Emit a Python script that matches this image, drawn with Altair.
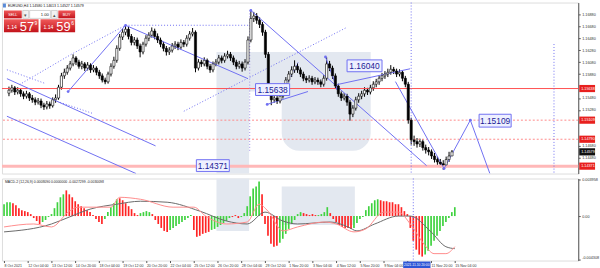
import altair as alt
import pandas as pd

# ---------------- data (EURUSD H4) ----------------
OPEN = [1.1556, 1.1561, 1.1565, 1.1558, 1.1561, 1.1555, 1.1551, 1.1555, 1.1548, 1.1545,
        1.1541, 1.1543, 1.1536, 1.1533, 1.1538, 1.1535, 1.1545, 1.1548, 1.1566, 1.1585,
        1.1591, 1.1598, 1.1605, 1.1615, 1.1608, 1.1601, 1.1605, 1.1598, 1.1603, 1.1595,
        1.1598, 1.1591, 1.1585, 1.1578, 1.1575, 1.1588, 1.1601, 1.1611, 1.1631, 1.1650,
        1.1658, 1.1663, 1.1651, 1.1641, 1.1645, 1.1635, 1.1625, 1.1638, 1.1648, 1.1653,
        1.1660, 1.1651, 1.1645, 1.1638, 1.1631, 1.1625, 1.1628, 1.1635, 1.1638, 1.1633,
        1.1641, 1.1638, 1.1648, 1.1655, 1.1658, 1.1598, 1.1608, 1.1605, 1.1611, 1.1601,
        1.1595, 1.1605, 1.1608, 1.1615, 1.1611, 1.1618, 1.1621, 1.1615, 1.1608, 1.1601,
        1.1605, 1.1598, 1.1608, 1.1645, 1.1681, 1.1685, 1.1678, 1.1671, 1.1658, 1.1621,
        1.1561, 1.1545, 1.1548, 1.1543, 1.1551, 1.1561, 1.1578, 1.1588, 1.1595, 1.1601,
        1.1595, 1.1588, 1.1581, 1.1578, 1.1581, 1.1575, 1.1578, 1.1575, 1.1571, 1.1581,
        1.1605, 1.1598, 1.1585, 1.1568, 1.1555, 1.1548, 1.1551, 1.1541, 1.1521, 1.1531,
        1.1545, 1.1551, 1.1555, 1.1561, 1.1558, 1.1565, 1.1571, 1.1575, 1.1581, 1.1585,
        1.1588, 1.1591, 1.1596, 1.1593, 1.1588, 1.1591, 1.1581, 1.1571, 1.1511, 1.1478,
        1.1475, 1.1471, 1.1475, 1.1465, 1.1461, 1.1458, 1.1451, 1.1445, 1.1441, 1.1438,
        1.1436, 1.1445, 1.1451]
HIGH = [1.1567, 1.1570, 1.1568, 1.1566, 1.1564, 1.1559, 1.1560, 1.1558, 1.1553, 1.1549,
        1.1548, 1.1547, 1.1540, 1.1543, 1.1542, 1.1549, 1.1554, 1.1570, 1.1590, 1.1597,
        1.1603, 1.1610, 1.1621, 1.1618, 1.1612, 1.1610, 1.1608, 1.1608, 1.1606, 1.1603,
        1.1601, 1.1595, 1.1589, 1.1582, 1.1592, 1.1606, 1.1617, 1.1636, 1.1655, 1.1664,
        1.1670, 1.1667, 1.1655, 1.1650, 1.1649, 1.1639, 1.1642, 1.1653, 1.1658, 1.1666,
        1.1664, 1.1656, 1.1649, 1.1642, 1.1635, 1.1633, 1.1640, 1.1643, 1.1642, 1.1646,
        1.1645, 1.1653, 1.1660, 1.1665, 1.1661, 1.1613, 1.1612, 1.1616, 1.1614, 1.1605,
        1.1609, 1.1613, 1.1620, 1.1619, 1.1623, 1.1627, 1.1625, 1.1619, 1.1612, 1.1610,
        1.1609, 1.1613, 1.1651, 1.1695, 1.1692, 1.1690, 1.1683, 1.1675, 1.1662, 1.1625,
        1.1566, 1.1554, 1.1553, 1.1556, 1.1566, 1.1583, 1.1593, 1.1601, 1.1611, 1.1606,
        1.1599, 1.1592, 1.1585, 1.1586, 1.1585, 1.1583, 1.1582, 1.1579, 1.1586, 1.1616,
        1.1610, 1.1602, 1.1589, 1.1572, 1.1559, 1.1556, 1.1555, 1.1545, 1.1536, 1.1550,
        1.1556, 1.1560, 1.1566, 1.1565, 1.1570, 1.1576, 1.1580, 1.1586, 1.1590, 1.1593,
        1.1597, 1.1603, 1.1600, 1.1597, 1.1596, 1.1594, 1.1585, 1.1575, 1.1515, 1.1485,
        1.1481, 1.1480, 1.1479, 1.1470, 1.1466, 1.1462, 1.1456, 1.1450, 1.1446, 1.1444,
        1.1450, 1.1458, 1.1461]
LOW = [1.1551, 1.1557, 1.1553, 1.1554, 1.1550, 1.1546, 1.1547, 1.1543, 1.1540, 1.1536,
       1.1537, 1.1531, 1.1528, 1.1529, 1.1530, 1.1532, 1.1540, 1.1545, 1.1562, 1.1580,
       1.1587, 1.1594, 1.1601, 1.1603, 1.1597, 1.1596, 1.1593, 1.1594, 1.1590, 1.1591,
       1.1586, 1.1580, 1.1574, 1.1571, 1.1572, 1.1584, 1.1597, 1.1607, 1.1627, 1.1645,
       1.1653, 1.1646, 1.1636, 1.1636, 1.1630, 1.1616, 1.1621, 1.1634, 1.1643, 1.1649,
       1.1646, 1.1640, 1.1633, 1.1626, 1.1619, 1.1620, 1.1624, 1.1630, 1.1628, 1.1629,
       1.1633, 1.1634, 1.1644, 1.1651, 1.1591, 1.1594, 1.1600, 1.1601, 1.1596, 1.1590,
       1.1591, 1.1601, 1.1604, 1.1606, 1.1607, 1.1614, 1.1610, 1.1603, 1.1596, 1.1597,
       1.1592, 1.1594, 1.1604, 1.1641, 1.1675, 1.1672, 1.1665, 1.1652, 1.1615, 1.1553,
       1.1536, 1.1540, 1.1538, 1.1539, 1.1547, 1.1557, 1.1574, 1.1583, 1.1590, 1.1590,
       1.1583, 1.1576, 1.1573, 1.1574, 1.1570, 1.1571, 1.1570, 1.1566, 1.1567, 1.1577,
       1.1593, 1.1580, 1.1563, 1.1550, 1.1543, 1.1544, 1.1535, 1.1510, 1.1516, 1.1527,
       1.1540, 1.1546, 1.1550, 1.1553, 1.1554, 1.1560, 1.1566, 1.1570, 1.1576, 1.1580,
       1.1583, 1.1587, 1.1588, 1.1583, 1.1584, 1.1576, 1.1566, 1.1505, 1.1470, 1.1468,
       1.1465, 1.1466, 1.1460, 1.1455, 1.1452, 1.1446, 1.1440, 1.1436, 1.1432, 1.1428,
       1.1432, 1.1441, 1.1453]
CLOSE = [1.1561, 1.1565, 1.1558, 1.1561, 1.1555, 1.1551, 1.1555, 1.1548, 1.1545, 1.1541,
         1.1543, 1.1536, 1.1533, 1.1538, 1.1535, 1.1545, 1.1548, 1.1566, 1.1585, 1.1591,
         1.1598, 1.1605, 1.1615, 1.1608, 1.1601, 1.1605, 1.1598, 1.1603, 1.1595, 1.1598,
         1.1591, 1.1585, 1.1578, 1.1575, 1.1588, 1.1601, 1.1611, 1.1631, 1.1650, 1.1658,
         1.1663, 1.1651, 1.1641, 1.1645, 1.1635, 1.1625, 1.1638, 1.1648, 1.1653, 1.1660,
         1.1651, 1.1645, 1.1638, 1.1631, 1.1625, 1.1628, 1.1635, 1.1638, 1.1633, 1.1641,
         1.1638, 1.1648, 1.1655, 1.1658, 1.1598, 1.1608, 1.1605, 1.1611, 1.1601, 1.1595,
         1.1605, 1.1608, 1.1615, 1.1611, 1.1618, 1.1621, 1.1615, 1.1608, 1.1601, 1.1605,
         1.1598, 1.1608, 1.1645, 1.1681, 1.1685, 1.1678, 1.1671, 1.1658, 1.1621, 1.1561,
         1.1545, 1.1548, 1.1543, 1.1551, 1.1561, 1.1578, 1.1588, 1.1595, 1.1601, 1.1595,
         1.1588, 1.1581, 1.1578, 1.1581, 1.1575, 1.1578, 1.1575, 1.1571, 1.1581, 1.1605,
         1.1598, 1.1585, 1.1568, 1.1555, 1.1548, 1.1551, 1.1541, 1.1521, 1.1531, 1.1545,
         1.1551, 1.1555, 1.1561, 1.1558, 1.1565, 1.1571, 1.1575, 1.1581, 1.1585, 1.1588,
         1.1591, 1.1596, 1.1593, 1.1588, 1.1591, 1.1581, 1.1571, 1.1511, 1.1478, 1.1475,
         1.1471, 1.1475, 1.1465, 1.1461, 1.1458, 1.1451, 1.1445, 1.1441, 1.1438, 1.1436,
         1.1445, 1.1451, 1.1458]

HIST = [0.0012, 0.0014, 0.0014, 0.0013, 0.0011, 0.0008, 0.0006, 0.0005, 0.0004, 0.0002,
        -0.0002, -0.0005, -0.0008, -0.0006, -0.0004, -0.0001, 0.0002, 0.0008, 0.0014, 0.0019,
        0.0022, 0.0026, 0.0022, 0.0019, 0.0015, 0.0012, 0.0010, 0.0008, 0.0006, 0.0004,
        0.0001, -0.0003, -0.0006, -0.0008, -0.0003, 0.0004, 0.0009, 0.0013, 0.0017, 0.0018,
        0.0016, 0.0013, 0.0010, 0.0007, 0.0003, 0.0001, 0.0003, 0.0004, 0.0005, 0.0004,
        0.0002, -0.0004, -0.0008, -0.0012, -0.0015, -0.0016, -0.0014, -0.0012, -0.0010, -0.0008,
        -0.0006, -0.0004, -0.0002, 0.0001, -0.0014, -0.0021, -0.0020, -0.0018, -0.0017, -0.0016,
        -0.0014, -0.0013, -0.0011, -0.0009, -0.0007, -0.0005, -0.0002, -0.0001, 0.0001, -0.0002,
        -0.0001, 0.0003, 0.0010, 0.0020, 0.0028, 0.0030, 0.0035, 0.0022, -0.0008, -0.0020,
        -0.0028, -0.0031, -0.0030, -0.0027, -0.0023, -0.0018, -0.0013, -0.0008, -0.0004, 0.0002,
        0.0004, 0.0003, 0.0002, 0.0001, 0.0002, 0.0001, 0.0001, 0.0002, 0.0004, 0.0009,
        0.0003, -0.0003, -0.0006, -0.0009, -0.0011, -0.0012, -0.0012, -0.0013, -0.0012, -0.0007,
        -0.0003, -0.0001, 0.0006, 0.0010, 0.0013, 0.0016, 0.0017, 0.0016, 0.0015, 0.0015,
        0.0014, 0.0014, 0.0012, 0.0012, 0.0009, 0.0005, 0.0002, -0.0012, -0.0025, -0.0034,
        -0.0039, -0.0041, -0.0039, -0.0035, -0.0030, -0.0025, -0.0020, -0.0015, -0.0010, -0.0006,
        -0.0002, 0.0004, 0.0009]
HIST_COLOR = ("gggrrrrrrr" "rrrggggggg" "grrrrrrrrr" "rrrrgggggr" "rrrrrrgggg"
              "rrrrrrgggg" "ggggrrrrrr" "gggggggrrr" "gggggggrrr" "rrrggggggg"
              "grrrrrgggg" "rrrrrrrrgg" "gggggggrrr" "rrrrrrrrrr" "rrgggggggg" "ggg")

SIG_I = [0, 16, 22, 29, 38, 46, 55, 66, 75, 82, 88, 94, 99, 110, 116, 119, 125, 133, 137, 144, 149, 152]
SIG_V = [-0.0016, -0.0008, -0.0001, 0.0007, 0.0012, 0.0015, 0.0014, 0.0005, -0.0005, -0.0008, 0.0004,
         -0.0005, -0.0008, -0.0006, -0.0011, -0.0015, -0.0008, 0.0000, 0.0000, -0.0016, -0.0031, -0.0033]
MAIN_I = [0, 10, 16, 22, 25, 36, 39, 46, 57, 64, 68, 75, 82, 86, 89, 94, 99, 108, 112, 118, 122, 128,
          133, 137, 142, 145, 149, 152]
MAIN_V = [-0.0011, -0.0008, -0.0011, 0.0005, 0.0009, 0.0009, 0.0019, 0.0017, 0.0009, 0.0009, 0.0000,
          -0.0008, -0.0006, 0.0012, 0.0005, -0.0015, -0.0011, -0.0006, -0.0008, -0.0016, -0.0013, 0.0004,
          0.0004, -0.0008, -0.0030, -0.0038, -0.0038, -0.0031]

TIME_LABELS = ["8 Oct 2021", "12 Oct 04:00", "13 Oct 12:00", "14 Oct 20:00", "18 Oct 04:00",
               "19 Oct 12:00", "20 Oct 20:00", "22 Oct 04:00", "25 Oct 12:00", "26 Oct 20:00",
               "28 Oct 04:00", "29 Oct 12:00", "1 Nov 20:00", "3 Nov 04:00", "4 Nov 12:00",
               "5 Nov 20:00", "9 Nov 04:00", "10 Nov 12:00", "11 Nov 20:00", "15 Nov 04:00"]
CROSSHAIR_LABEL = "2021.11.10 20:00"
PRICE_TICKS = [1.1448, 1.1468, 1.1528, 1.1548, 1.1588,
               1.1608, 1.1628, 1.1648, 1.1668, 1.1688]

# trend lines: (bar index, price) vertices
SOLID_LINES = [
    [(40.0, 1.16696), (82.0, 1.15803)],
    [(20.3, 1.15588), (40.0, 1.16696)],
    [(83.0, 1.16944), (143.3, 1.14348)],
    [(108.6, 1.16167), (112.6, 1.15638)],
    [(112.6, 1.15704), (137.6, 1.15968)],
    [(88.6, 1.15373), (102.6, 1.15588)],
    [(-0.7, 1.15803), (50.3, 1.14679)],
    [(-0.7, 1.15175), (43.6, 1.14216)],
    [(132.6, 1.15754), (149.3, 1.14299)],
    [(149.3, 1.14299), (158.3, 1.15109), (165.0, 1.14216)],
]
DOTTED_LINES = [
    [(3.6, 1.15704), (21.6, 1.16216), (40.0, 1.16696)],
    [(40.0, 1.16696), (82.6, 1.16696)],
    [(60.0, 1.15258), (116.0, 1.16663)],
    [(-0.7, 1.15952), (12.6, 1.15720)],
    [(16.6, 1.15423), (28.6, 1.15224)],
    [(94.3, 1.15621), (99.3, 1.16084)],
]
DOTS = [(40.0, 1.16696), (83.0, 1.16944), (112.6, 1.15638), (149.3, 1.14299),
        (158.3, 1.15109), (88.6, 1.15373), (20.3, 1.15588), (108.6, 1.16167)]

LBL_TEXT = ["1.16040", "1.15638", "1.15109", "1.14371"]
LBL_I0 = [116.0, 84.6, 161.3, 64.3]
LBL_I1 = [128.0, 96.3, 172.3, 75.6]
LBL_P0 = [1.15919, 1.15522, 1.14993, 1.14249]
LBL_P1 = [1.16117, 1.15720, 1.15208, 1.14448]

HL_P = [1.15638, 1.15109, 1.14790, 1.14340]
HL_STYLE = ["solid", "dash", "dash", "thick"]
TAG_P = [1.15638, 1.15109, 1.14790, 1.14579, 1.14340]
TAG_TXT = ["1.15638", "1.15109", "1.14790", "1.14579", "1.14371"]
TAG_COL = ["#e8201e", "#e8201e", "#e8201e", "#111111", "#e8201e"]

VL_I = [138.0, 187.0, 82.6]
VL_P0 = [1.17076, 1.16382, 1.16944]
VL_P1 = [1.14216, 1.14216, 1.14563]
VL_COL = ["#6f6ff2", "#6f6ff2", "#9d8fe6"]

# ---------------- layout constants ----------------
W = 583
H_MAIN = 173
H_MACD = 83
I_DOM = [-0.7, 193.63]
P_DOM = [1.14216, 1.17076]
M_DOM = [-0.0045, 0.0038]
FONT = "Liberation Sans"
BLUE = "#6f6ff2"
WM = "#e3e8f0"
SMALL = 3.8
TSMALL = 3.6

xs = alt.Scale(domain=I_DOM, nice=False, zero=False)
ys = alt.Scale(domain=P_DOM, nice=False, zero=False)
ms = alt.Scale(domain=M_DOM, nice=False, zero=False)
one = pd.DataFrame({"k": [0]})

AX_MAIN_X = alt.Axis(labels=False, ticks=False, domain=False, grid=False, title=None)
AX_MAIN_Y = alt.Axis(orient="right", values=PRICE_TICKS, format=".5f", labelFontSize=SMALL,
                     labelFont=FONT, tickSize=2, grid=False, domainColor="#555", tickColor="#555",
                     labelColor="#333", labelPadding=1.5, title=None)
tl_arr = "[" + ",".join("'%s'" % s for s in TIME_LABELS) + "]"
AX_MACD_X = alt.Axis(values=list(range(0, 153, 8)),
                     labelExpr="datum.value == 136 ? '' : " + tl_arr + "[round(datum.value/8)]",
                     labelAlign="left", labelFontSize=TSMALL, labelFont=FONT, labelColor="#333",
                     tickSize=2, labelPadding=1.5, labelOverlap=False, labelFlush=False, grid=False,
                     domain=False, tickColor="#555", title=None)
AX_MACD_Y = alt.Axis(orient="right", values=[0.0037, 0.0, -0.0044],
                     labelExpr="datum.value > 0.001 ? '0.003958' : (datum.value < -0.001 ? '-0.004308' : '0.00')",
                     labelFontSize=SMALL, labelFont=FONT, tickSize=2, grid=False, domainColor="#555",
                     tickColor="#555", labelColor="#333", labelPadding=1.5, labelFlush=True, title=None)


def mx(f):
    return alt.X(f, type="quantitative", scale=xs, axis=AX_MAIN_X)


def my(f):
    return alt.Y(f, type="quantitative", scale=ys, axis=AX_MAIN_Y)


def gx(f):
    return alt.X(f, type="quantitative", scale=xs, axis=AX_MACD_X)


def gy(f):
    return alt.Y(f, type="quantitative", scale=ms, axis=AX_MACD_Y)


def prect(x1, y1, x2, y2, fill, stroke=None, cr=0):
    kw = dict(fill=fill, strokeWidth=0.6)
    if stroke:
        kw["stroke"] = stroke
    if cr:
        kw["cornerRadius"] = cr
    return alt.Chart(one).mark_rect(**kw).encode(
        x=alt.value(x1), x2=alt.value(x2), y=alt.value(y1), y2=alt.value(y2))


def ptext(x, y, txt, size=5, color="#000", align="left", weight="normal", baseline="middle"):
    return alt.Chart(one).mark_text(fontSize=size, color=color, align=align, font=FONT,
                                    fontWeight=weight, baseline=baseline).encode(
        x=alt.value(x), y=alt.value(y), text=alt.value(txt))


RED_GRAD = alt.Gradient(gradient="linear", x1=0, x2=0, y1=0, y2=1,
                        stops=[alt.GradientStop(color="#f05a5a", offset=0),
                               alt.GradientStop(color="#c2121a", offset=1)])

# ---------------- main panel ----------------
candles = pd.DataFrame({"i": list(range(len(CLOSE))), "o": OPEN, "h": HIGH, "l": LOW, "c": CLOSE})
candles["dir"] = ["u" if c >= o else "d" for o, c in zip(OPEN, CLOSE)]

watermark_main = [
    prect(217, 50, 250, H_MAIN, WM),
    prect(250, 50, 373, 90, WM),
    prect(283, 70, 373, 150, WM, cr=18),
]

wick = alt.Chart(candles).mark_rule(color="#000", strokeWidth=1).encode(
    x=mx("i"), y=my("l"), y2="h:Q")
body = alt.Chart(candles).mark_bar(size=2.2, stroke="#000", strokeWidth=0.6).encode(
    x=mx("i"), y=my("o"), y2="c:Q",
    fill=alt.Fill("dir:N", scale=alt.Scale(domain=["u", "d"], range=["#ffffff", "#000000"]), legend=None))

hl = pd.DataFrame({"p": HL_P, "s": HL_STYLE})
hl_solid = alt.Chart(hl[hl.s == "solid"]).mark_rule(color="#ff5050", strokeWidth=1).encode(y=my("p"))
hl_dash = alt.Chart(hl[hl.s == "dash"]).mark_rule(color="#ff8a8a", strokeWidth=1, strokeDash=[2, 2]).encode(y=my("p"))
hl_thick = alt.Chart(hl[hl.s == "thick"]).mark_rule(color="#ffb8b8", strokeWidth=3).encode(y=my("p"))

vl = pd.DataFrame({"i": VL_I, "p0": VL_P0, "p1": VL_P1, "col": VL_COL})
vlines = alt.Chart(vl).mark_rule(strokeWidth=1, strokeDash=[1, 2]).encode(
    x=mx("i"), y=my("p0"), y2="p1:Q", color=alt.Color("col:N", scale=None))

rows = []
for k, ln in enumerate(SOLID_LINES):
    for j, (i, p) in enumerate(ln):
        rows.append({"seg": "s%d" % k, "ord": j, "i": i, "p": p})
solid_df = pd.DataFrame(rows)
rows = []
for k, ln in enumerate(DOTTED_LINES):
    for j, (i, p) in enumerate(ln):
        rows.append({"seg": "d%d" % k, "ord": j, "i": i, "p": p})
dotted_df = pd.DataFrame(rows)

solid = alt.Chart(solid_df).mark_line(color=BLUE, strokeWidth=1, clip=True).encode(
    x=mx("i"), y=my("p"), detail="seg:N", order="ord:Q")
dotted = alt.Chart(dotted_df).mark_line(color=BLUE, strokeWidth=1, strokeDash=[1, 2], clip=True).encode(
    x=mx("i"), y=my("p"), detail="seg:N", order="ord:Q")
dots = alt.Chart(pd.DataFrame({"i": [d[0] for d in DOTS], "p": [d[1] for d in DOTS]})).mark_point(
    filled=True, size=8, color=BLUE, opacity=1).encode(x=mx("i"), y=my("p"))

lbl = pd.DataFrame({"t": LBL_TEXT, "i0": LBL_I0, "i1": LBL_I1, "p0": LBL_P0, "p1": LBL_P1})
lbl["im"] = (lbl.i0 + lbl.i1) / 2
lbl["pm"] = (lbl.p0 + lbl.p1) / 2
lbl_box = alt.Chart(lbl).mark_rect(fill="#eef0ff", stroke=BLUE, strokeWidth=1).encode(
    x=mx("i0"), x2="i1:Q", y=my("p0"), y2="p1:Q")
lbl_txt = alt.Chart(lbl).mark_text(fontSize=8.5, color="#1a1a96", font=FONT).encode(
    x=mx("im"), y=my("pm"), text="t:N")

tags = pd.DataFrame({"p": TAG_P, "t": TAG_TXT, "col": TAG_COL})
tags["pt"] = tags.p + 0.0006
tags["pb"] = tags.p - 0.0006
tag_box = alt.Chart(tags).mark_rect().encode(
    x=alt.value(W + 1), x2=alt.value(600), y=my("pt"), y2="pb:Q",
    color=alt.Color("col:N", scale=None))
tag_txt = alt.Chart(tags).mark_text(fontSize=SMALL, color="#ffffff", align="left", font=FONT).encode(
    x=alt.value(W + 3), y=my("p"), text="t:N")

widgets = [
    prect(2, 8, 20, 16, RED_GRAD),
    prect(21, 8, 27, 16, "#f2f2f2", "#b8b8b8"),
    prect(28, 8, 49, 16, "#ffffff", "#b8b8b8"),
    prect(50, 8, 56, 16, "#f2f2f2", "#b8b8b8"),
    prect(57, 8, 74, 16, RED_GRAD),
    prect(2, 17, 37, 30, RED_GRAD),
    prect(39, 17, 74, 30, RED_GRAD),
    ptext(11, 12.3, "SELL", 3.8, "#ffffff", "center"),
    ptext(24, 12.3, "▾", 5, "#555", "center"),
    ptext(47.5, 12.3, "1.00", 4.2, "#222", "right"),
    ptext(53, 12.3, "▴", 5, "#555", "center"),
    ptext(65.5, 12.3, "BUY", 3.8, "#ffffff", "center"),
    ptext(5, 27, "1.14", 5.2, "#ffffff", "left", "normal", "alphabetic"),
    ptext(18, 28.8, "57", 13, "#ffffff", "left", "normal", "alphabetic"),
    ptext(33, 21, "9", 5, "#ffffff", "left"),
    ptext(42, 27, "1.14", 5.2, "#ffffff", "left", "normal", "alphabetic"),
    ptext(55, 28.8, "59", 13, "#ffffff", "left", "normal", "alphabetic"),
    ptext(70, 21, "6", 5, "#ffffff", "left"),
    ptext(6, 3, "EURUSD,H4  1.14580 1.14613 1.14527 1.14579", 3.6, "#111"),
    prect(1, 1, 4, 5, "#5b8bd8"),
]

main = alt.layer(
    *watermark_main, wick, hl_thick, hl_dash, hl_solid, vlines, dotted, solid, dots,
    body, lbl_box, lbl_txt, tag_box, tag_txt, *widgets
).properties(width=W, height=H_MAIN)

# ---------------- MACD panel ----------------
hist = pd.DataFrame({"i": list(range(len(HIST))), "v": HIST, "z": [0.0] * len(HIST),
                     "hc": list(HIST_COLOR)})

watermark_macd = [
    prect(217, 0, 250, 53, WM),
    prect(283, 8, 357, 47, WM),
]

hbars = alt.Chart(hist).mark_rule(strokeWidth=1.7).encode(
    x=gx("i"), y=gy("v"), y2="z:Q",
    color=alt.Color("hc:N", scale=alt.Scale(domain=["g", "r"], range=["#3fd23f", "#ff2424"]), legend=None))

sig = alt.Chart(pd.DataFrame({"i": SIG_I, "v": SIG_V})).mark_line(
    color="#6a6a6a", strokeWidth=1, interpolate="monotone").encode(x=gx("i"), y=gy("v"))
mac = alt.Chart(pd.DataFrame({"i": MAIN_I, "v": MAIN_V})).mark_line(
    color="#ff8c8c", strokeWidth=1, interpolate="monotone").encode(x=gx("i"), y=gy("v"))

vline_m = alt.Chart(pd.DataFrame({"i": [VL_I[0]]})).mark_rule(
    color=BLUE, strokeWidth=1, strokeDash=[1, 2]).encode(x=gx("i"))

hl_box = alt.Chart(pd.DataFrame({"i0": [134.6], "i1": [143.8]})).mark_rect(fill="#2d55d6").encode(
    x=gx("i0"), x2="i1:Q", y=alt.value(H_MACD + 1), y2=alt.value(H_MACD + 9))
hl_txt = alt.Chart(pd.DataFrame({"i": [134.9], "t": [CROSSHAIR_LABEL]})).mark_text(
    fontSize=3.35, color="#ffffff", align="left", font=FONT).encode(
    x=gx("i"), y=alt.value(H_MACD + 5), text="t:N")

macd_lbl = ptext(3, 4, "MACD-2 (12,26,9) 0.0008090 0.0000000 -0.0027299 -0.0030098", 3.5, "#222")

macd = alt.layer(
    *watermark_macd, hbars, sig, mac, vline_m, hl_box, hl_txt, macd_lbl
).properties(width=W, height=H_MACD)

chart = alt.vconcat(main, macd, spacing=2).properties(
    padding={"left": 0, "top": 0, "right": 0, "bottom": 0}
).configure_view(stroke="#8a8a8a", strokeWidth=1).configure(background="#ffffff")

chart.save("out.html", embed_options={"renderer": "svg", "actions": False})
